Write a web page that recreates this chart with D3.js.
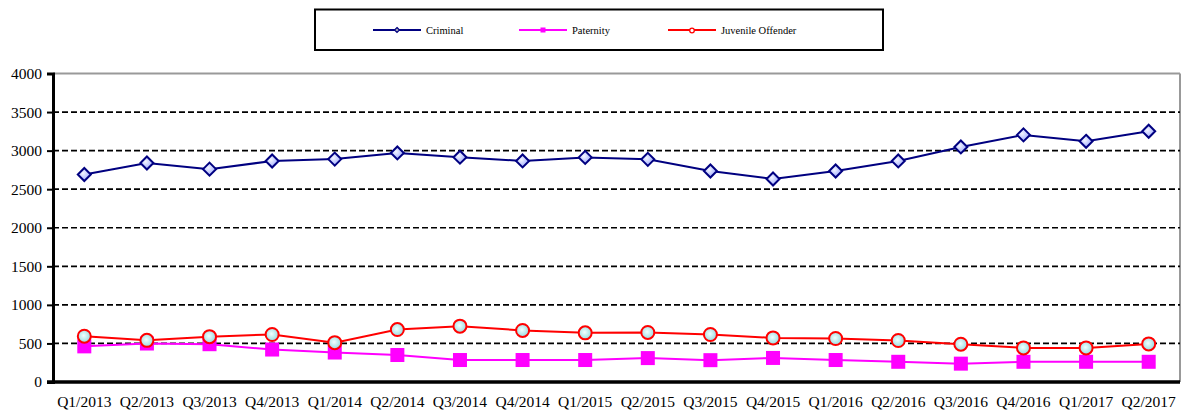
<!DOCTYPE html>
<html><head><meta charset="utf-8">
<script src="https://cdn.jsdelivr.net/npm/d3@7"></script>
<style>body{margin:0;background:#fff}svg{display:block}</style>
</head><body>
<svg id="c" width="1185" height="411"></svg>
<script>
const categories = ["Q1/2013","Q2/2013","Q3/2013","Q4/2013","Q1/2014","Q2/2014","Q3/2014","Q4/2014","Q1/2015","Q2/2015","Q3/2015","Q4/2015","Q1/2016","Q2/2016","Q3/2016","Q4/2016","Q1/2017","Q2/2017"];
const criminal = [2690,2840,2760,2865,2890,2970,2915,2866,2912,2887,2736,2632,2736,2866,3048,3204,3121,3251];
const paternity = [462,499,490,421,382,350,285,285,285,310,283,312,285,262,238,262,262,262];
const juvenile = [594,540,588,616,510,680,724,668,637,642,616,572,564,538,490,442,442,494];
const yTicks = [0,500,1000,1500,2000,2500,3000,3500,4000];
const seriesNames = ["Criminal","Paternity","Juvenile Offender"];

const svg = d3.select("#c");
const L = 53, R = 1180, T = 73.5, B = 382;
const x = d3.scaleBand().domain(categories).range([L, R]);
const y = d3.scaleLinear().domain([0, 4000]).range([B, T]);
const font = "'Liberation Serif','Times New Roman',serif";

const defs = svg.append("defs");
const g1 = defs.append("radialGradient").attr("id","dg").attr("cx","40%").attr("cy","40%").attr("r","70%");
g1.append("stop").attr("offset","0%").attr("stop-color","#f4f6ff");
g1.append("stop").attr("offset","100%").attr("stop-color","#8e9cff");
const g2 = defs.append("radialGradient").attr("id","cg").attr("cx","45%").attr("cy","45%").attr("r","65%");
g2.append("stop").attr("offset","0%").attr("stop-color","#f2ffff");
g2.append("stop").attr("offset","100%").attr("stop-color","#86d6da");

svg.append("line").attr("x1",L).attr("x2",R).attr("y1",T).attr("y2",T).attr("stroke","#999").attr("stroke-width",2);
svg.append("line").attr("x1",R).attr("x2",R).attr("y1",T).attr("y2",B).attr("stroke","#999").attr("stroke-width",2);

svg.append("g").selectAll("line").data(yTicks.filter(d=>d>0&&d<4000)).join("line")
  .attr("x1",L).attr("x2",R).attr("y1",d=>y(d)).attr("y2",d=>y(d))
  .attr("stroke","#000").attr("stroke-width",1.7).attr("stroke-dasharray","6,3");

const ya = svg.append("g").attr("transform",`translate(${L},0)`)
  .call(d3.axisLeft(y).tickValues(yTicks).tickSize(6).tickPadding(5).tickFormat(d3.format("d")));
ya.select(".domain").attr("stroke","#000").attr("stroke-width",3);
ya.selectAll(".tick line").attr("stroke","#000").attr("stroke-width",2);
ya.selectAll("text").attr("font-family",font).attr("font-size",15.5).attr("fill","#000");

const xa = svg.append("g").attr("transform",`translate(0,${B})`)
  .call(d3.axisBottom(x).tickSize(0).tickPadding(14));
xa.select(".domain").attr("stroke","#000").attr("stroke-width",3.5).attr("d",`M${L-6},0H${R}`);
xa.selectAll("text").attr("font-family",font).attr("font-size",15.5).attr("fill","#000");

const cx = d => x(d) + x.bandwidth()/2;
const line = d3.line().x((d,i)=>cx(categories[i])).y(d=>y(d));

svg.append("path").datum(paternity).attr("d",line).attr("fill","none").attr("stroke","#ff00ff").attr("stroke-width",2);
svg.append("g").selectAll("rect").data(paternity).join("rect")
  .attr("x",(d,i)=>cx(categories[i])-7).attr("y",d=>y(d)-7).attr("width",14).attr("height",14)
  .attr("fill","#ff00ff");

svg.append("path").datum(criminal).attr("d",line).attr("fill","none").attr("stroke","#000080").attr("stroke-width",2);
svg.append("g").selectAll("path").data(criminal).join("path")
  .attr("d","M0,-6.5L6.5,0L0,6.5L-6.5,0Z")
  .attr("transform",(d,i)=>`translate(${cx(categories[i])},${y(d)})`)
  .attr("fill","url(#dg)").attr("stroke","#000080").attr("stroke-width",2);

svg.append("path").datum(juvenile).attr("d",line).attr("fill","none").attr("stroke","#ff0000").attr("stroke-width",2);
svg.append("g").selectAll("circle").data(juvenile).join("circle")
  .attr("cx",(d,i)=>cx(categories[i])).attr("cy",d=>y(d)).attr("r",6.5)
  .attr("fill","url(#cg)").attr("stroke","#ff0000").attr("stroke-width",2);

const lg = svg.append("g");
lg.append("rect").attr("x",315).attr("y",9.5).attr("width",568).attr("height",40.5)
  .attr("fill","#fff").attr("stroke","#000").attr("stroke-width",2);
const lx = [373, 519, 668];
const colors = ["#000080","#ff00ff","#ff0000"];
seriesNames.forEach((n,i)=>{
  const gx = lx[i], gy = 30;
  lg.append("line").attr("x1",gx).attr("x2",gx+48).attr("y1",gy).attr("y2",gy).attr("stroke",colors[i]).attr("stroke-width",2);
  const mx = gx+24;
  if(i===0) lg.append("path").attr("d","M0,-2.5L2.5,0L0,2.5L-2.5,0Z").attr("transform",`translate(${mx},${gy})`).attr("fill","#aab").attr("stroke","#000080").attr("stroke-width",1.2);
  if(i===1) lg.append("rect").attr("x",mx-2.5).attr("y",gy-2.5).attr("width",5).attr("height",5).attr("fill","#ff00ff");
  if(i===2) lg.append("circle").attr("cx",mx).attr("cy",gy+0.5).attr("r",2.3).attr("fill","#fff").attr("stroke","#ff0000").attr("stroke-width",1.3);
  lg.append("text").attr("x",gx+53).attr("y",gy+3.5).attr("font-family",font).attr("font-size",10.5).attr("fill","#000").text(n);
});
</script>
</body></html>
